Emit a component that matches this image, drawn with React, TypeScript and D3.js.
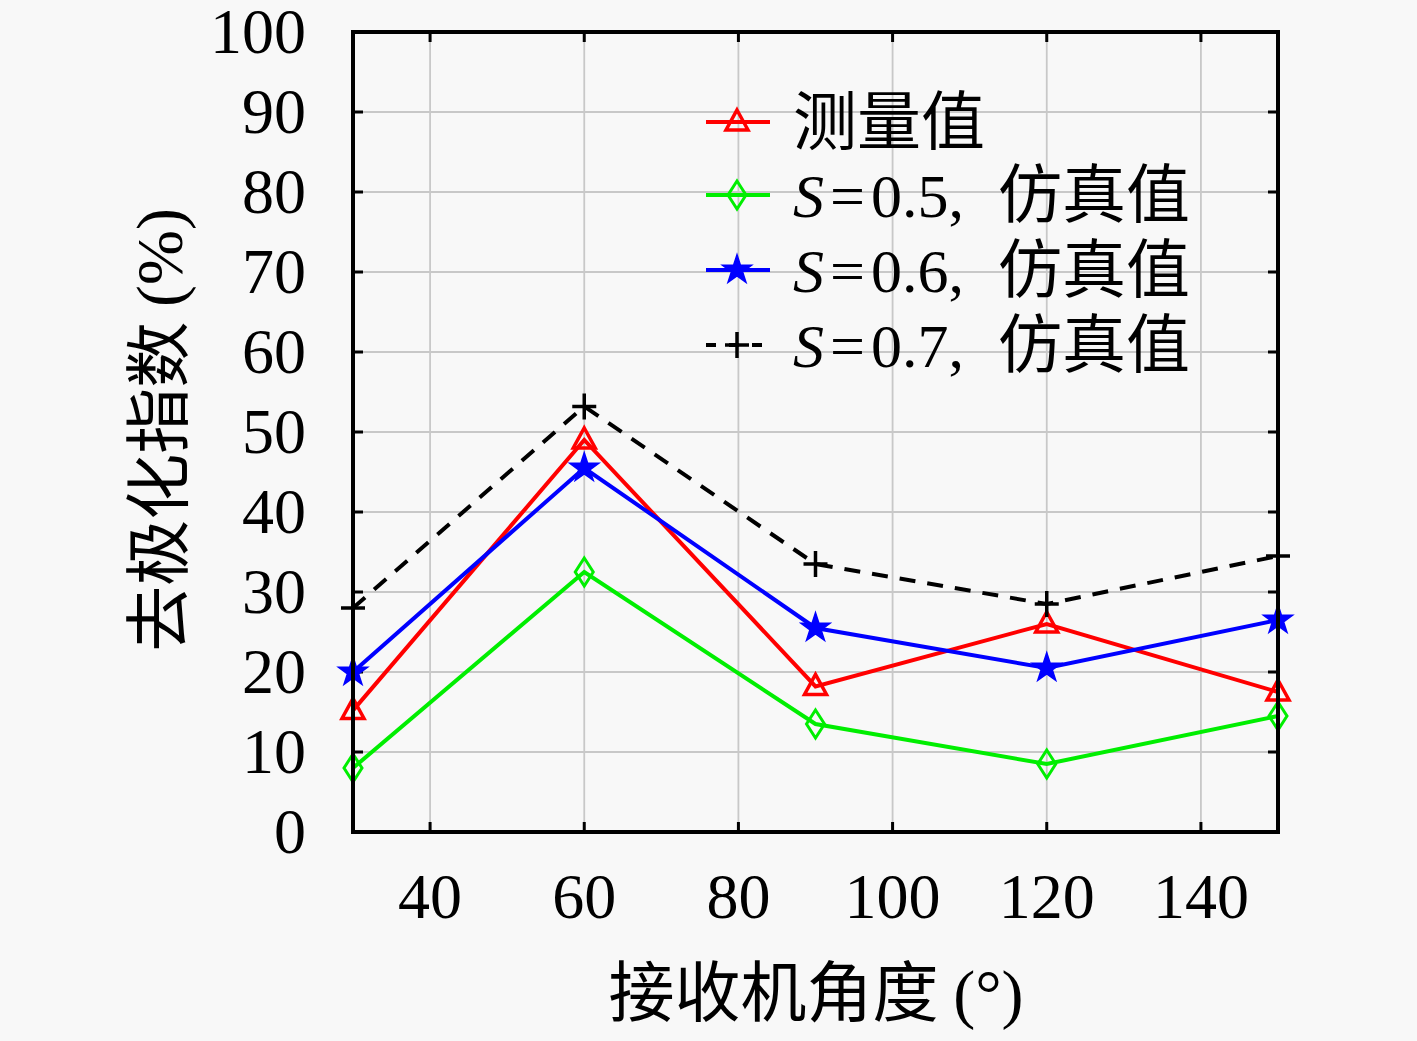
import React from "react";
import * as d3 from "d3";

const angles = [30, 60, 90, 120, 150];
const measured = [15.2, 49, 18.2, 26, 17.5];
const simS05 = [8, 32.5, 13.5, 8.5, 14.5];
const simS06 = [20, 45.5, 25.5, 20.5, 26.5];
const simS07 = [28, 53.2, 33.5, 28.5, 34.5];
const xTicks = [40, 60, 80, 100, 120, 140];
const yTicks = [0, 10, 20, 30, 40, 50, 60, 70, 80, 90, 100];
const seriesNames = ["测量值", "S=0.5, 仿真值", "S=0.6, 仿真值", "S=0.7, 仿真值"];

const W = 1417, H = 1041;
const L = 353, R = 1278, T = 32, B = 832;
const serif = "'Liberation Serif', 'DejaVu Serif', serif";
const cjk = "'Noto Sans CJK SC', sans-serif";

const x = d3.scaleLinear().domain([30, 150]).range([L, R]);
const y = d3.scaleLinear().domain([0, 100]).range([B, T]);

type Series = { name: string; values: number[]; color: string; marker: string; dash?: string };
const series: Series[] = [
  { name: seriesNames[0], values: measured, color: "#ff0000", marker: "triangle" },
  { name: seriesNames[1], values: simS05, color: "#00ee00", marker: "diamond" },
  { name: seriesNames[2], values: simS06, color: "#0000ff", marker: "star" },
  { name: seriesNames[3], values: simS07, color: "#000000", marker: "plus", dash: "16,12" },
];

function Marker({ kind, color, cx, cy }: { kind: string; color: string; cx: number; cy: number }) {
  const t = `translate(${cx},${cy})`;
  if (kind === "triangle")
    return <path transform={t} d="M0,-12L11,8L-11,8Z" fill="none" stroke={color} strokeWidth={3.5} />;
  if (kind === "diamond")
    return <path transform={t} d="M0,-14L9,0L0,14L-9,0Z" fill="none" stroke={color} strokeWidth={3} />;
  if (kind === "star")
    return <path transform={t} d={d3.symbol(d3.symbolStar, 260)() || ""} fill={color} stroke={color} strokeWidth={1.5} />;
  return <path transform={t} d="M-12,0H12M0,-13V13" stroke={color} strokeWidth={3.5} />;
}

function Label({ text, x0, y0 }: { text: string; x0: number; y0: number }) {
  if (text.startsWith("S=")) {
    const [num, rest] = text.slice(2).split(", ");
    return (
      <text x={x0} y={y0} fontSize={62} fill="#000">
        <tspan fontFamily={serif} fontStyle="italic">S</tspan>
        <tspan fontFamily={serif} dx={6}>=</tspan>
        <tspan fontFamily={serif} dx={6}>{num + ","}</tspan>
        <tspan fontFamily={cjk} fontSize={64} dx={34}>{rest}</tspan>
      </text>
    );
  }
  return <text x={x0} y={y0} fontSize={64} fontFamily={cjk} fill="#000">{text}</text>;
}

export default function App() {
  const line = d3.line<number>().x((_, i) => x(angles[i])).y((v) => y(v));
  const legendY = [122, 195, 270, 345];
  return (
    <svg width={W} height={H} style={{ display: "block", position: "absolute", left: 0, top: 0, background: "#f8f8f8" }}>
      <rect x={0} y={0} width={W} height={H} fill="#f8f8f8" />
      {xTicks.map((v) => (
        <line key={"gx" + v} x1={x(v)} x2={x(v)} y1={T} y2={B} stroke="#c8c8c8" strokeWidth={1.8} />
      ))}
      {yTicks.filter((v) => v > 0 && v < 100).map((v) => (
        <line key={"gy" + v} x1={L} x2={R} y1={y(v)} y2={y(v)} stroke="#c8c8c8" strokeWidth={1.8} />
      ))}
      {xTicks.map((v) => (
        <g key={"tx" + v}>
          <line x1={x(v)} x2={x(v)} y1={B} y2={B - 10} stroke="#000" strokeWidth={3} />
          <line x1={x(v)} x2={x(v)} y1={T} y2={T + 10} stroke="#000" strokeWidth={3} />
          <text x={x(v)} y={918} textAnchor="middle" fontFamily={serif} fontSize={64} fill="#000">{v}</text>
        </g>
      ))}
      {yTicks.map((v) => (
        <g key={"ty" + v}>
          <line x1={L} x2={L + 10} y1={y(v)} y2={y(v)} stroke="#000" strokeWidth={3} />
          <line x1={R} x2={R - 10} y1={y(v)} y2={y(v)} stroke="#000" strokeWidth={3} />
          <text x={306} y={y(v)} dy="0.33em" textAnchor="end" fontFamily={serif} fontSize={64} fill="#000">{v}</text>
        </g>
      ))}
      {series.map((s) => (
        <g key={s.name}>
          <path d={line(s.values) || ""} fill="none" stroke={s.color} strokeWidth={4} strokeDasharray={s.dash} />
          {s.values.map((v, i) => (
            <Marker key={i} kind={s.marker} color={s.color} cx={x(angles[i])} cy={y(v)} />
          ))}
        </g>
      ))}
      <rect x={L} y={T} width={R - L} height={B - T} fill="none" stroke="#000" strokeWidth={4} />
      {series.map((s, i) => (
        <g key={"lg" + s.name}>
          <line x1={706} x2={770} y1={legendY[i]} y2={legendY[i]} stroke={s.color} strokeWidth={4} strokeDasharray={s.dash ? "10,13" : undefined} />
          <Marker kind={s.marker} color={s.color} cx={737} cy={legendY[i]} />
          <Label text={s.name} x0={793} y0={legendY[i] + 22} />
        </g>
      ))}
      <text x={816} y={1016} textAnchor="middle" fontSize={66} fill="#000">
        <tspan fontFamily={cjk}>接收机角度 </tspan>
        <tspan fontFamily={serif}>(°)</tspan>
      </text>
      <text transform="translate(182,430) rotate(-90)" textAnchor="middle" fontSize={66} fill="#000">
        <tspan fontFamily={cjk}>去极化指数 </tspan>
        <tspan fontFamily={serif}>(%)</tspan>
      </text>
    </svg>
  );
}
